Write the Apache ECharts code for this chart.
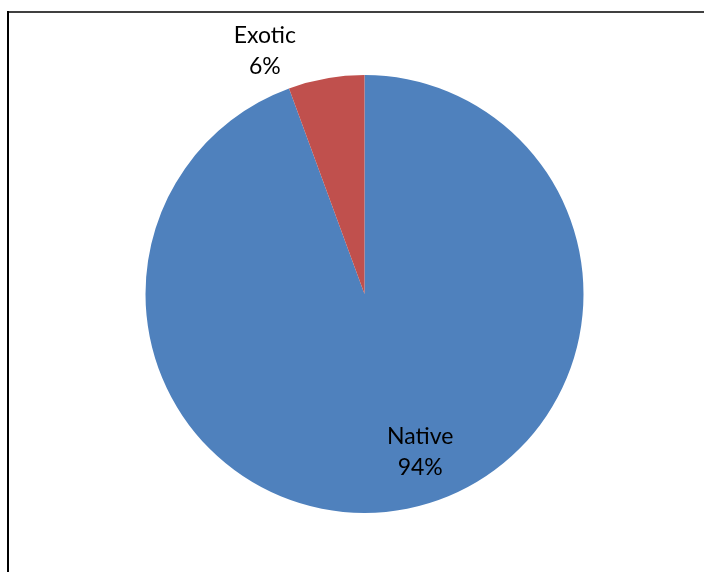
<!DOCTYPE html>
<html>
<head>
<meta charset="utf-8">
<script src="https://cdn.jsdelivr.net/npm/echarts@6/dist/echarts.min.js"></script>
<style>
html,body{margin:0;padding:0;background:#fff;}
#chart{width:704px;height:572px;}
</style>
</head>
<body>
<div id="chart"></div>
<script>
const categories = ['Native', 'Exotic'];
const values = [94.4, 5.6];
const colors = ['#4F81BD', '#C0504D'];

const chart = echarts.init(document.getElementById('chart'), null, {renderer: 'canvas'});
const labelOffsets = [[36, 47], [-80, -132]];

const data = categories.map((name, i) => ({
  name: name,
  value: values[i],
  itemStyle: {color: colors[i]},
  label: {offset: labelOffsets[i]}
}));

chart.setOption({
  backgroundColor: '#ffffff',
  animation: false,
  series: [{
    type: 'pie',
    center: [364.5, 294],
    radius: 219,
    startAngle: 90,
    clockwise: true,
    avoidLabelOverlap: false,
    data: data,
    itemStyle: {borderWidth: 0},
    label: {
      show: true,
      position: 'inside',
      color: '#000',
      fontFamily: 'Lato',
      fontSize: 23,
      lineHeight: 31,
      align: 'center',
      formatter: p => p.name + '\n' + Math.round(p.percent) + '%'
    },
    labelLine: {show: false},
    emphasis: {disabled: true}
  }],
  graphic: [
    {type: 'line', shape: {x1: 7, y1: 12, x2: 704, y2: 12}, style: {stroke: '#000', lineWidth: 1.5}},
    {type: 'line', shape: {x1: 8, y1: 11, x2: 8, y2: 572}, style: {stroke: '#000', lineWidth: 2}}
  ]
});
</script>
</body>
</html>
